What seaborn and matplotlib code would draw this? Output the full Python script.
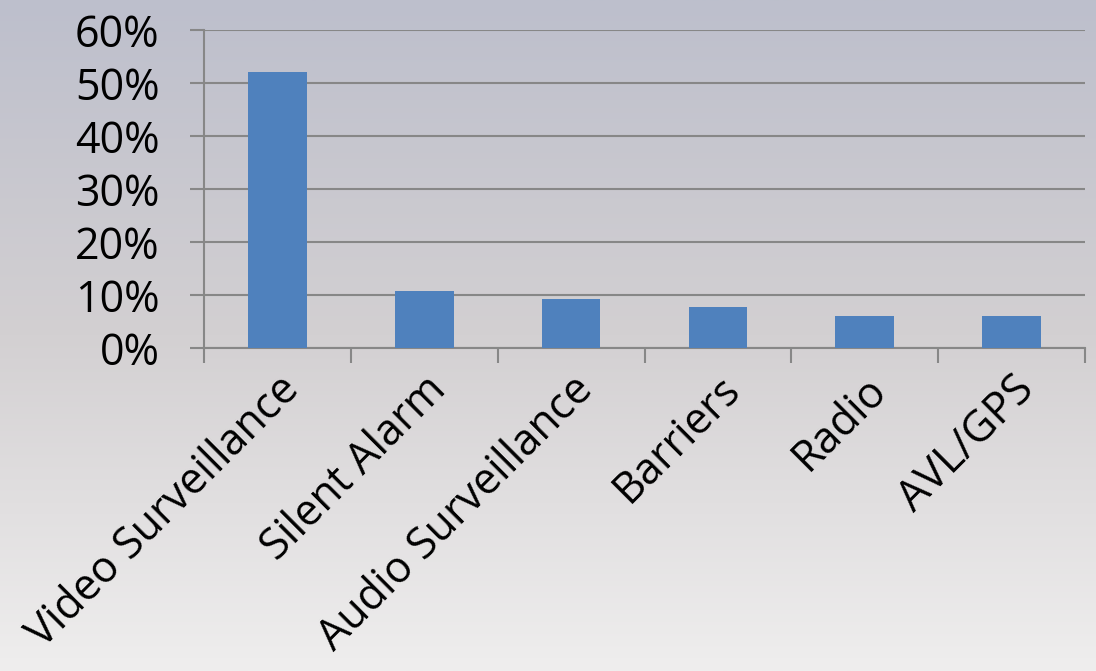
import numpy as np
import matplotlib
matplotlib.use("Agg")
import matplotlib.pyplot as plt
import seaborn as sns
import pandas as pd
from matplotlib.colors import LinearSegmentedColormap
from matplotlib.ticker import FixedLocator, PercentFormatter

categories = ["Video Surveillance", "Silent Alarm", "Audio Surveillance",
              "Barriers", "Radio", "AVL/GPS"]
shares = [52.1, 10.8, 9.2, 7.7, 6.0, 6.0]
y_ticks = [0, 10, 20, 30, 40, 50, 60]

df = pd.DataFrame({"category": categories, "share": shares})

sns.set_theme(style="white")
plt.rcParams['font.family'] = ['Open Sans', 'DejaVu Sans']
plt.rcParams['text.color'] = 'black'

fig = plt.figure(figsize=(10.96, 6.71), dpi=100)

# fondo degradado
bg = fig.add_axes([0, 0, 1, 1], zorder=-10)
cmap = LinearSegmentedColormap.from_list("bg", ["#bdbfcc", "#d3d0d2", "#efeeee"])
bg.imshow(np.linspace(0, 1, 256).reshape(-1, 1), aspect="auto", cmap=cmap,
          extent=[0, 1, 0, 1])
bg.axis("off")

ax = fig.add_axes([0.1861, 0.4814, 0.8039, 0.4739])
ax.patch.set_alpha(0)

sns.barplot(data=df, x="category", y="share", color="#4f81bd", saturation=1,
            width=0.4, linewidth=0, ax=ax, zorder=3)

ax.set_ylim(0, 60)
ax.set_xlim(-0.5, len(categories) - 0.5)
ax.yaxis.set_major_locator(FixedLocator(y_ticks))
ax.yaxis.set_major_formatter(PercentFormatter(decimals=0))
ax.grid(axis="y", color="#878787", linewidth=1.5, zorder=0)
ax.set_axisbelow(True)

for side in ["top", "right"]:
    ax.spines[side].set_visible(False)
for side in ["left", "bottom"]:
    ax.spines[side].set_color("#878787")
    ax.spines[side].set_linewidth(1.5)

ax.tick_params(axis="y", length=10, width=1.5, color="#878787",
               labelsize=31, labelcolor="black", pad=22, direction="out", left=True)
ax.set_xticks(np.arange(len(categories)))
ax.set_xticks(np.arange(-0.5, len(categories)), minor=True)
ax.tick_params(axis="x", which="major", length=0, labelsize=31,
               labelcolor="black", pad=14)
ax.tick_params(axis="x", which="minor", length=11, width=1.5, color="#878787",
               direction="out", bottom=True)
plt.setp(ax.get_xticklabels(), rotation=45, ha="right", rotation_mode="anchor")

ax.set_xlabel("")
ax.set_ylabel("")

fig.savefig("out.png", dpi=100)
